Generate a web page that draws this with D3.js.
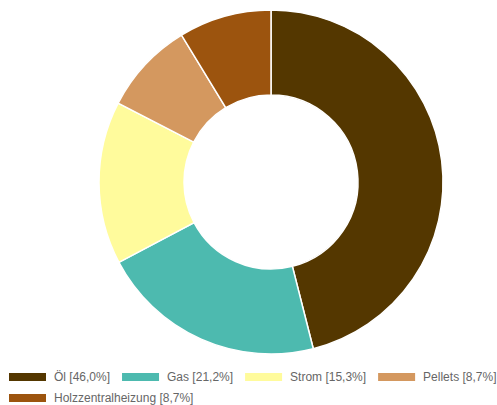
<!DOCTYPE html>
<html>
<head>
<meta charset="utf-8">
<script src="https://cdn.jsdelivr.net/npm/d3@7"></script>
<style>
  html, body { margin: 0; padding: 0; background: #fff; }
  svg { display: block; }
</style>
</head>
<body>
<svg id="chart" width="497" height="405"></svg>
<script>
// Heating types and their shares (percent)
const categories = ["Öl", "Gas", "Strom", "Pellets", "Holzzentralheizung"];
const shares = [46.0, 21.2, 15.3, 8.7, 8.7];
const labels = ["46,0%", "21,2%", "15,3%", "8,7%", "8,7%"];
const colors = ["#543700", "#4dbaaf", "#fffb9c", "#d4985f", "#9c540e"];

const svg = d3.select("#chart");

const cx = 271, cy = 182, outerR = 172, innerR = 87;

const color = d3.scaleOrdinal().domain(categories).range(colors);

const data = categories.map((c, i) => ({ name: c, value: shares[i], label: labels[i] }));

const pie = d3.pie().value(d => d.value).sort(null);
const arc = d3.arc().innerRadius(innerR).outerRadius(outerR);

svg.append("g")
  .attr("transform", `translate(${cx},${cy})`)
  .selectAll("path")
  .data(pie(data))
  .join("path")
  .attr("d", arc)
  .attr("fill", d => color(d.data.name))
  .attr("stroke", "#fff")
  .attr("stroke-width", 1.5);

// Legend: four entries per row
const legend = svg.append("g").attr("font-family", "Arial, 'Liberation Sans', sans-serif")
  .attr("font-size", 12).attr("fill", "#666");

const swW = 37, swH = 8, swGap = 8, itemGap = 12, rowH = 21, perRow = 4;
let x = 9, y = 377;
data.forEach((d, i) => {
  if (i > 0 && i % perRow === 0) { x = 9; y += rowH; }
  const g = legend.append("g");
  g.append("rect")
    .attr("x", x).attr("y", y - swH / 2)
    .attr("width", swW).attr("height", swH)
    .attr("fill", color(d.name));
  const t = g.append("text")
    .attr("x", x + swW + swGap).attr("y", y)
    .attr("dominant-baseline", "central")
    .text(`${d.name} [${d.label}]`);
  x += swW + swGap + t.node().getComputedTextLength() + itemGap;
});
</script>
</body>
</html>
